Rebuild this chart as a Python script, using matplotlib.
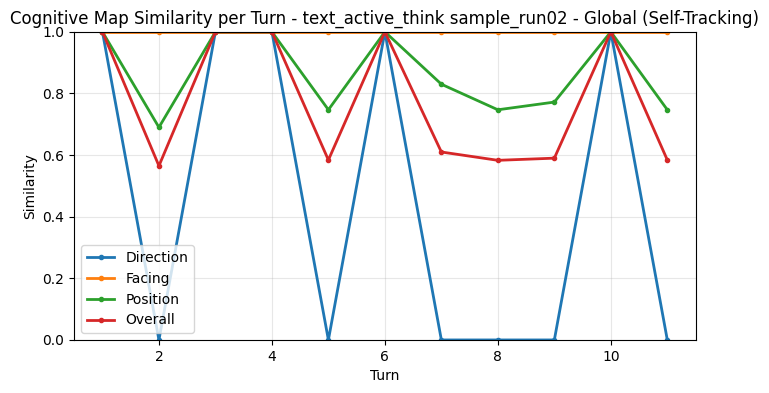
import matplotlib
matplotlib.use("Agg")
import matplotlib.pyplot as plt

turns = [1, 2, 3, 4, 5, 6, 7, 8, 9, 10, 11]
direction = [1, 0, 1, 1, 0, 1, 0, 0, 0, 1, 0]
facing = [1, 1, 1, 1, 1, 1, 1, 1, 1, 1, 1]
position = [1, 0.69, 1, 1, 0.747, 1, 0.83, 0.747, 0.772, 1, 0.747]
overall = [1, 0.565, 1, 1, 0.584, 1, 0.61, 0.583, 0.59, 1, 0.584]

fig, ax = plt.subplots(figsize=(7.69, 3.93), dpi=100)
fig.subplots_adjust(left=0.0965, right=0.9045, top=0.919, bottom=0.135)

ax.plot(turns, direction, marker='o', markersize=3, linewidth=2, label='Direction')
ax.plot(turns, facing, marker='o', markersize=3, linewidth=2, label='Facing')
ax.plot(turns, position, marker='o', markersize=3, linewidth=2, label='Position')
ax.plot(turns, overall, marker='o', markersize=3, linewidth=2, label='Overall')

ax.set_ylim(0, 1)
ax.set_xlabel('Turn')
ax.set_ylabel('Similarity')
ax.set_title('Cognitive Map Similarity per Turn - text_active_think sample_run02 - Global (Self-Tracking)')
ax.grid(True, alpha=0.3)
ax.legend(loc='lower left')

fig.savefig('out.png')
